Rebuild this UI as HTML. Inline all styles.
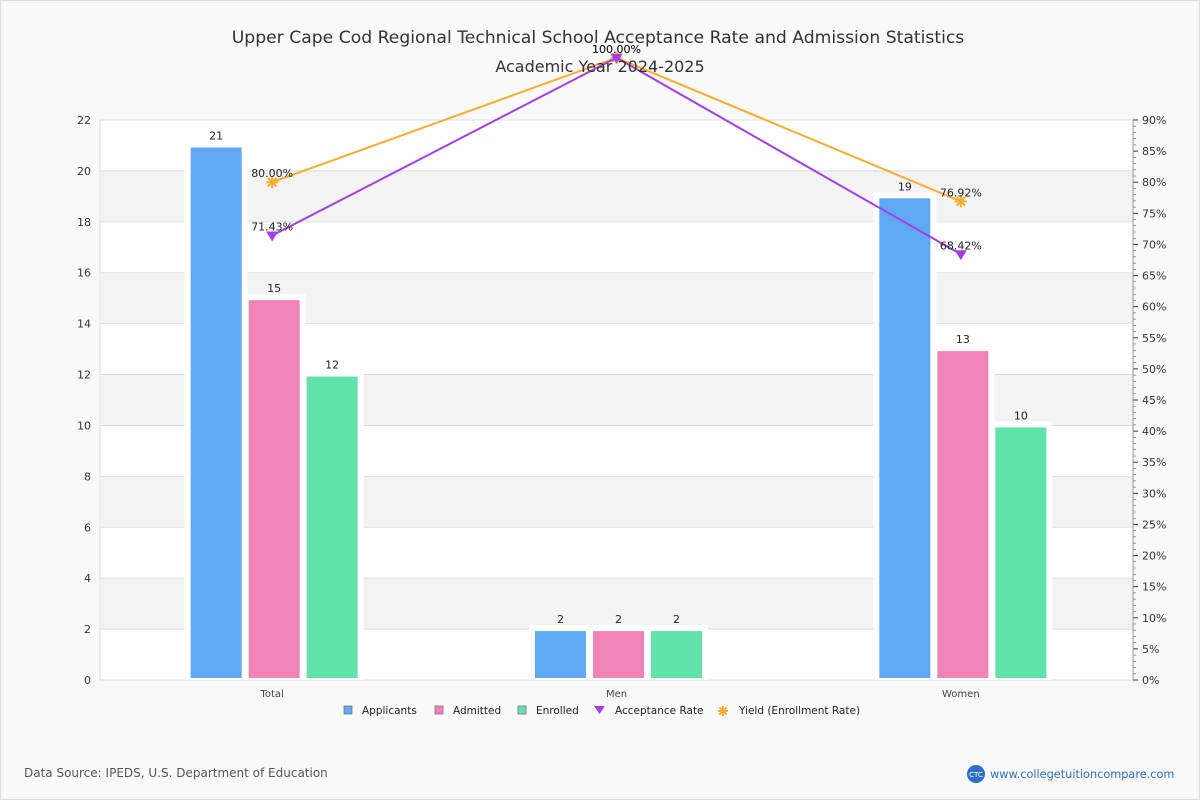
<!DOCTYPE html>
<html><head><meta charset="utf-8"><style>
body{margin:0;background:#fff;font-family:"DejaVu Sans","Liberation Sans",sans-serif}
#wrap{position:relative;width:1198px;height:798px;border:1px solid #ddd;background:#f9f9f9}
svg text{font-family:"DejaVu Sans","Liberation Sans",sans-serif}
</style></head><body>
<div id="wrap">
<svg id="chart" width="1200" height="800" style="position:absolute;left:-1px;top:-1px"></svg>
</div>
<script>
const categories=["Total","Men","Women"];
const applicants=[21,2,19];
const admitted=[15,2,13];
const enrolled=[12,2,10];
const acceptRate=[71.43,100,68.42];
const yieldRate=[80,100,76.92];
const leftTicks=[0,2,4,6,8,10,12,14,16,18,20,22];
const rightTicks=[0,5,10,15,20,25,30,35,40,45,50,55,60,65,70,75,80,85,90];

const NS="http://www.w3.org/2000/svg";
const svg=document.getElementById('chart');
function el(t,a,txt){const e=document.createElementNS(NS,t);for(const k in a)e.setAttribute(k,a[k]);if(txt!==undefined)e.textContent=txt;svg.appendChild(e);return e;}
const X0=100,X1=1133,Y0=680,Y1=120;
const yL=v=>Y0-(v/22)*(Y0-Y1);
const yR=v=>Y0-(v/90)*(Y0-Y1);
const gw=(X1-X0)/categories.length;
const xC=i=>X0+gw*(i+0.5);

let e;
e=el('rect',{x:X0,y:Y1,width:X1-X0,height:Y0-Y1,fill:'#fff',stroke:'#ddd'});

for(let i=0;i<leftTicks.length-1;i++){
  if(i%2===1){e=el('rect',{x:X0,y:yL(leftTicks[i+1]),width:X1-X0,height:yL(leftTicks[i])-yL(leftTicks[i+1]),fill:'#f3f3f3'});
  }
}
leftTicks.forEach(t=>{
  e=el('line',{x1:X0,x2:X1,y1:yL(t),y2:yL(t),stroke:'#ddd'});
  
  e=el('text',{x:91,y:yL(t)+4,'text-anchor':'end','font-size':11,fill:'#333'},t);
  
});
rightTicks.forEach(t=>{
  e=el('line',{x1:X1,x2:X1+5,y1:yR(t),y2:yR(t),stroke:'#333'});
  
  e=el('text',{x:X1+9,y:yR(t)+4,'font-size':11,fill:'#333'},t+'%');
  
});
for(let t=1;t<90;t++){if(t%5)el('line',{x1:X1,x2:X1+3,y1:yR(t),y2:yR(t),stroke:'#555','stroke-width':0.6});}
el('line',{x1:X1,x2:X1,y1:Y1,y2:Y0,stroke:'#999'});

const series=[[applicants,'#60a8f3','Applicants'],[admitted,'#f283b9','Admitted'],[enrolled,'#60e2a8','Enrolled']];
const bw=53,step=58;
categories.forEach((c,i)=>{
  const cx=xC(i)+2;
  series.forEach((s,j)=>{
    const x=cx+(j-1)*step-bw/2,v=s[0][i];
    e=el('rect',{x:x-5,y:yL(v)-4,width:bw+10,height:Y0-yL(v)+4,fill:'#fff'});
    
  });
  series.forEach((s,j)=>{
    const x=cx+(j-1)*step-bw/2,v=s[0][i];
    e=el('rect',{x:x+1,y:yL(v)+2,width:bw-2,height:Y0-yL(v)-4,fill:s[1]});
    
    e=el('text',{x:x+bw/2,y:yL(v)-6,'text-anchor':'middle','font-size':11,fill:'#222'},v);
    
  });
  e=el('text',{x:xC(i),y:697,'text-anchor':'middle','font-size':10,fill:'#444'},c);
  
});

function star(x,y,r,color){
  const g=document.createElementNS(NS,'g');svg.appendChild(g);
  for(let k=0;k<4;k++){const a=k*Math.PI/4;const l=document.createElementNS(NS,'line');
    l.setAttribute('x1',x-r*Math.cos(a));l.setAttribute('y1',y-r*Math.sin(a));l.setAttribute('x2',x+r*Math.cos(a));l.setAttribute('y2',y+r*Math.sin(a));
    l.setAttribute('stroke',color);l.setAttribute('stroke-width',2);g.appendChild(l);}
  return g;
}
function line(vals,color,name,marker){
  e=el('polyline',{points:vals.map((v,i)=>xC(i)+','+yR(v)).join(' '),fill:'none',stroke:color,'stroke-width':2});
  
  vals.forEach((v,i)=>{
    const x=xC(i),y=yR(v);
    if(marker==='tri'){e=el('path',{d:`M${x-6},${y-4}L${x+6},${y-4}L${x},${y+6}Z`,fill:color});}
    else{e=star(x,y,6,color);}
    
    e=el('text',{x:x,y:y-5,'text-anchor':'middle','font-size':11,fill:'#222'},v.toFixed(2)+'%');
    
  });
}
line(yieldRate,'#f8ad2e','yield','star');
line(acceptRate,'#a23fe8','acceptance-rate','tri');

e=el('text',{x:598,y:43,'text-anchor':'middle','font-size':17.2,fill:'#333'},'Upper Cape Cod Regional Technical School Acceptance Rate and Admission Statistics');

e=el('text',{x:600,y:72,'text-anchor':'middle','font-size':16,fill:'#333'},'Academic Year 2024-2025');


const leg=[['Applicants','#60a8f3',344,'sq'],['Admitted','#f283b9',435,'sq'],['Enrolled','#60e2a8',518,'sq'],['Acceptance Rate','#a23fe8',594,'tri'],['Yield (Enrollment Rate)','#f8ad2e',718,'star']];
leg.forEach(l=>{
  if(l[3]==='sq')e=el('rect',{x:l[2],y:706,width:8,height:8,fill:l[1],stroke:'#777','stroke-width':0.8});
  else if(l[3]==='tri')e=el('path',{d:`M${l[2]},${706}L${l[2]+11},${706}L${l[2]+5.5},${714}Z`,fill:l[1]});
  else e=star(l[2]+5,711,5,l[1]);
  
  e=el('text',{x:l[2]+(l[3]==='sq'?18:21),y:714,'font-size':10.5,fill:'#222'},l[0]);
  
});

e=el('text',{x:24,y:777,'font-size':12,fill:'#555'},'Data Source: IPEDS, U.S. Department of Education');

e=el('circle',{cx:976,cy:774,r:9,fill:'#2d6fc9'});

el('text',{x:976,y:777,'text-anchor':'middle','font-size':7,fill:'#fff'},'CTC');
e=el('text',{x:990,y:778,'font-size':11.3,fill:'#2d6fc9'},'www.collegetuitioncompare.com');

</script>
</body></html>
